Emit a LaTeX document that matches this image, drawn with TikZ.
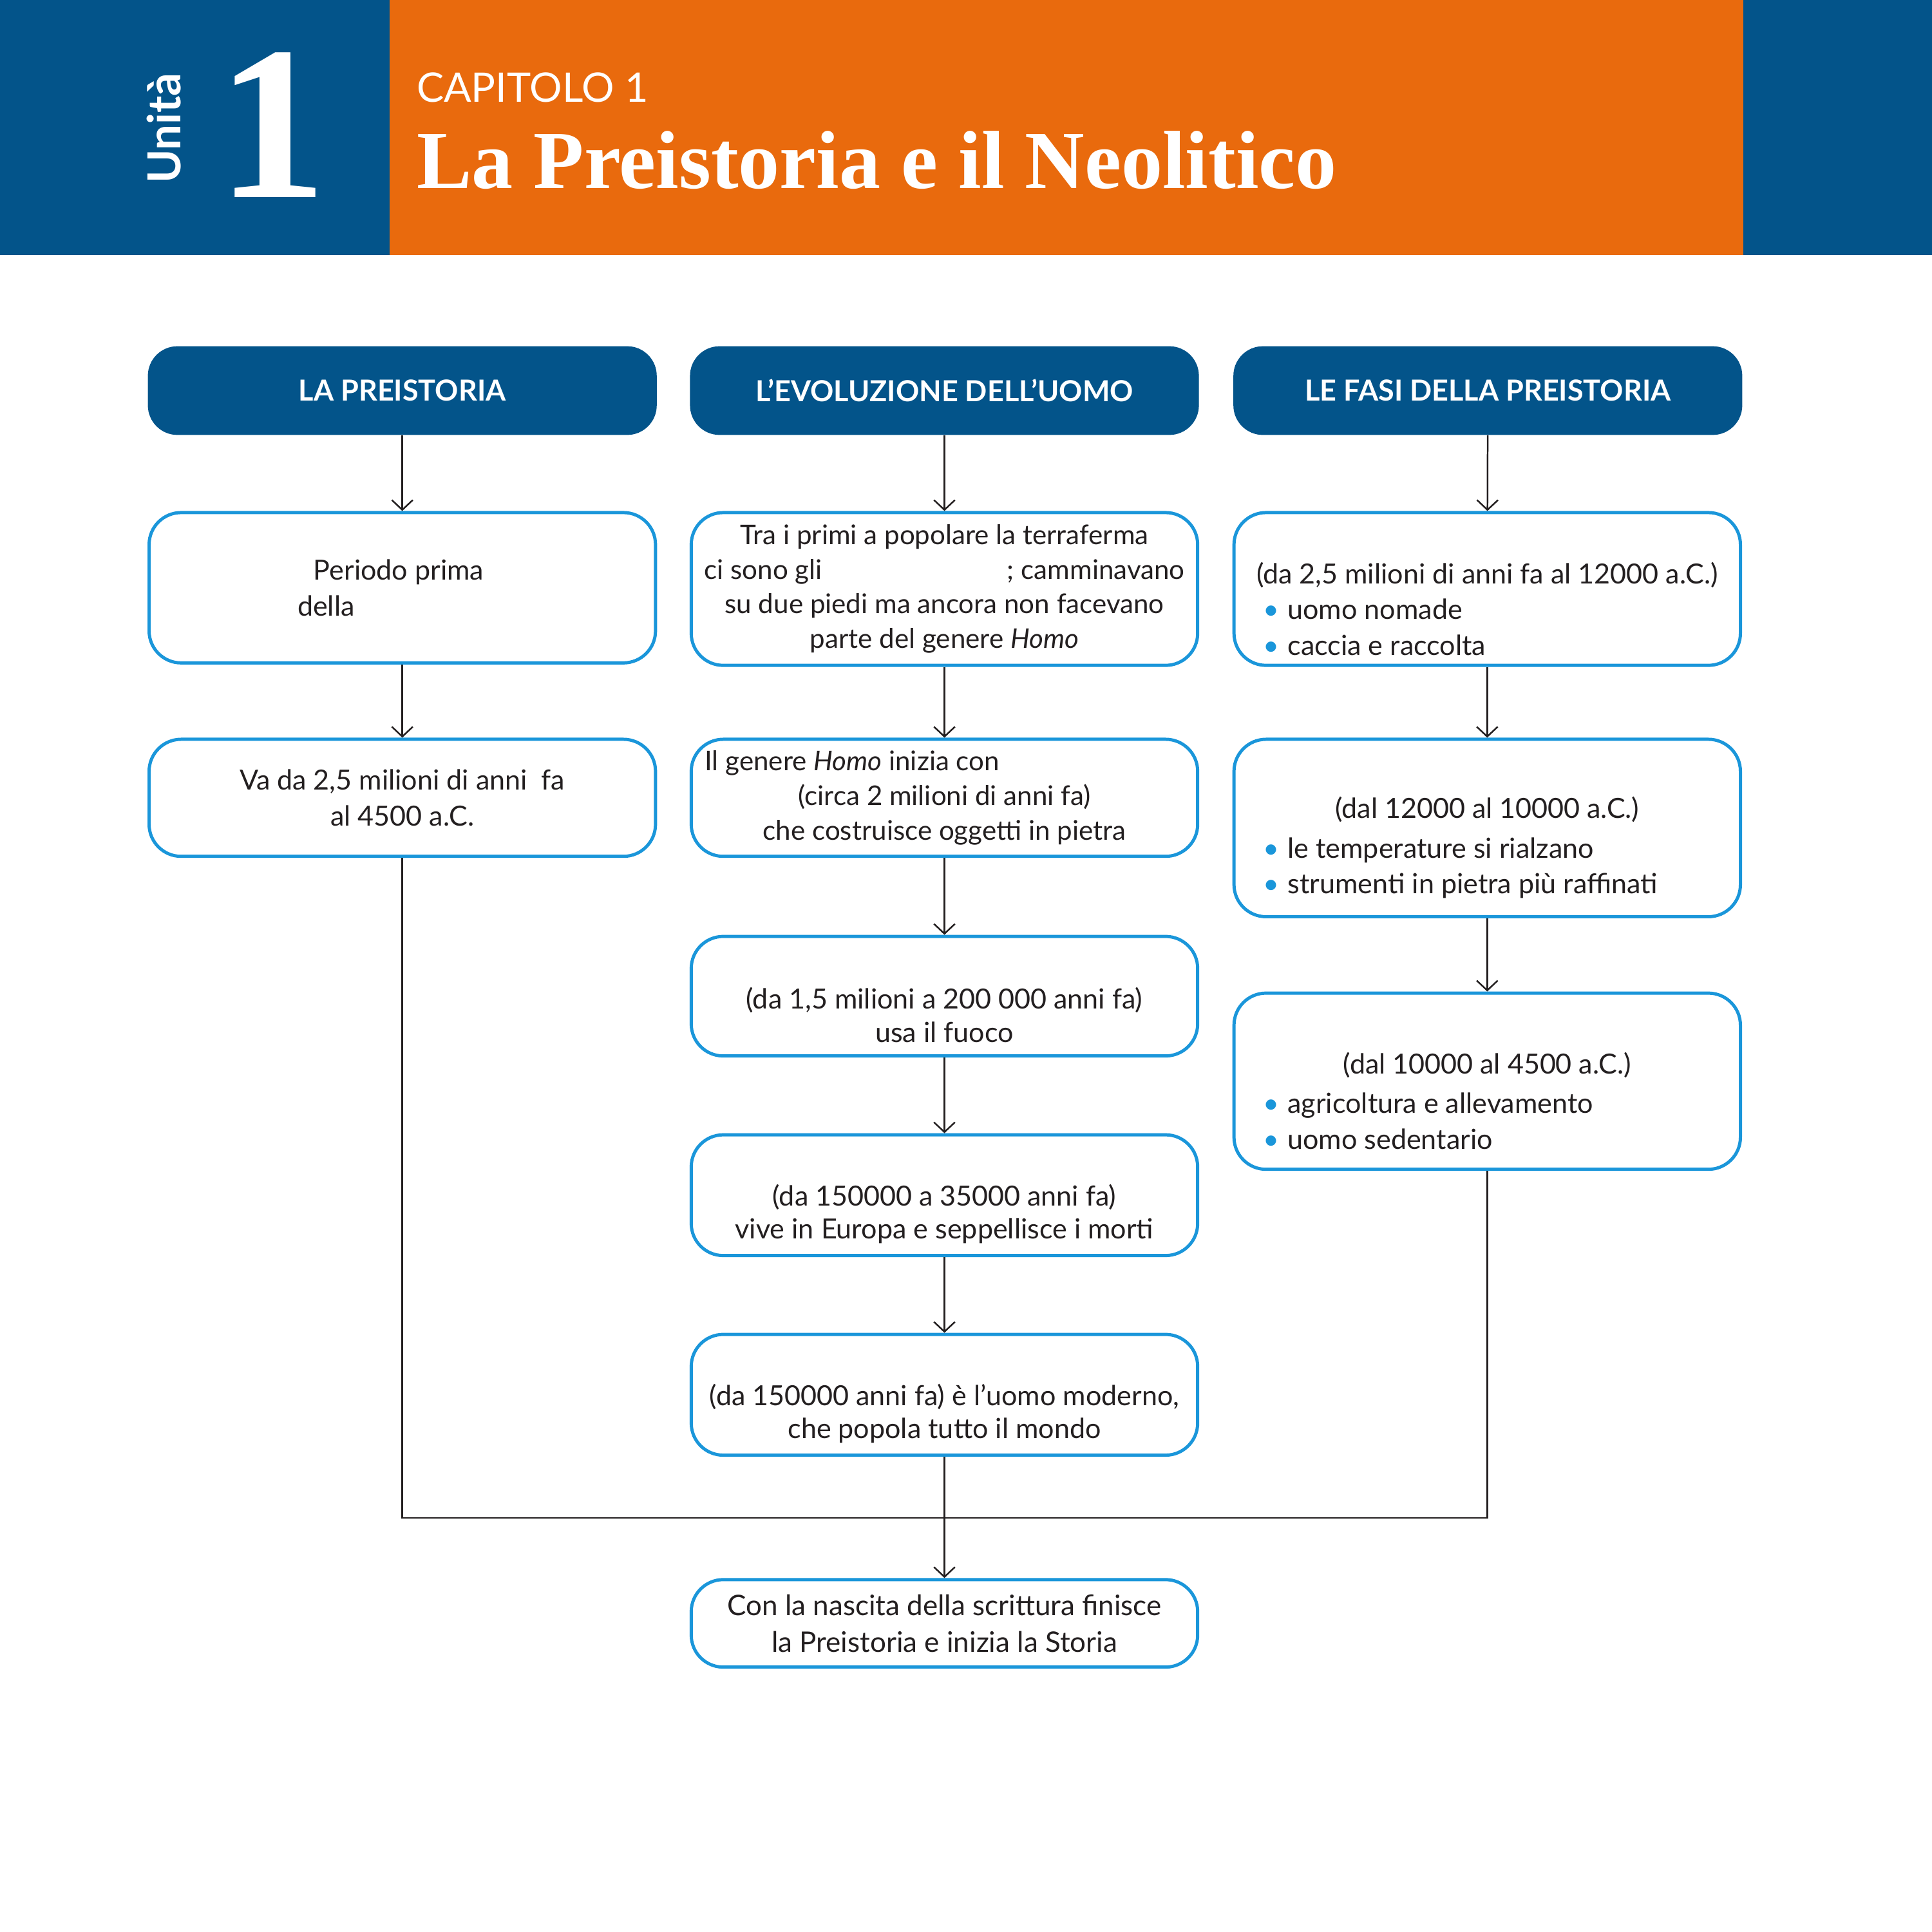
\documentclass[tikz,border=0pt]{standalone}
\usepackage{fontspec}
\setmainfont{Lato}
\newfontfamily\titolofont{Liberation Serif}
\usepackage{tikz}
\usetikzlibrary{arrows.meta,positioning}
\definecolor{bluscuro}{HTML}{03548A}
\definecolor{arancio}{HTML}{E96A0D}
\definecolor{azzurro}{HTML}{1A96DA}
\definecolor{linea}{HTML}{231F20}
\tikzset{
    testata/.style={
           rectangle,
           rounded corners=24pt,
           fill=bluscuro,
           text=white,
           minimum width=413pt,
           minimum height=72pt,
           font=\fontsize{23.5}{26}\selectfont\bfseries,
           },
    casella/.style={
           rectangle,
           rounded corners=26pt,
           draw=azzurro, line width=2.6pt,
           fill=white,
           minimum width=411pt,
           inner sep=2pt,
           align=center,
           text=linea,
           font=\fontsize{22.5}{29}\selectfont,
           },
    freccia/.style={
           draw=linea, line width=1.3pt,
           -{Straight Barb[length=8pt,width=17pt]},
           },
}
% riga con pallino azzurro (terza colonna)
\newcommand{\punto}[1]{\makebox[364pt][l]{\textcolor{azzurro}{\textbullet}\hspace{7pt}#1}}

\begin{document}
\begin{tikzpicture}[x=1pt,y=-1pt]
    \useasboundingbox (0,0) rectangle (1568,1568);
    \fill[white] (0,0) rectangle (1568,1568);

    % fascia del titolo
    \fill[bluscuro] (0,0) rectangle (1568,207);
    \fill[arancio] (316,0) rectangle (1415,207);
    \node[text=white, rotate=90, inner sep=0pt,
    font=\fontsize{37}{40}\selectfont\bfseries] (unita) at (133,104) {Unità};
    \node[text=white, anchor=base, inner sep=0pt,
    font=\titolofont\fontsize{178}{180}\selectfont\bfseries] (numero) at (221,160) {1};
    \node[text=white, anchor=base west, inner sep=0pt,
    font=\fontsize{33}{36}\selectfont] (capitolo) at (338,83) {CAPITOLO 1};
    \node[text=white, anchor=base west, inner sep=0pt,
    font=\titolofont\fontsize{67}{70}\selectfont\bfseries] (titolo) at (338,153)
    {La Preistoria e il Neolitico};

    % testate delle tre colonne
    \node[testata] (preist) at (326.5,317) {LA PREISTORIA};
    \node[testata,
    right of=preist,
    node distance=440pt] (evol) {L’EVOLUZIONE DELL’UOMO};
    \node[testata,
    right of=evol,
    node distance=441pt] (fasi) {LE FASI DELLA PREISTORIA};

    % prima colonna
    \node[casella, minimum height=122pt] (periodo) at (326.5,477)
    {\makebox[170pt][l]{\hspace{13pt}Periodo prima}\\\makebox[170pt][l]{della}};
    \node[casella, minimum height=95pt] (durata) at (326.5,647.5)
    {Va da 2,5 milioni di anni\ \ fa\\al 4500 a.C.};

    % seconda colonna
    \node[casella, minimum height=124pt,
    font=\fontsize{22}{28}\selectfont] (primi) at (766.5,478)
    {Tra i primi a popolare la terraferma\\
     \makebox[390pt][s]{ci sono gli\hfill; camminavano}\\
     su due piedi ma ancora non facevano\\
     parte del genere \emph{Homo}};
    \node[casella, minimum height=95pt,
    font=\fontsize{22}{28}\selectfont] (genere) at (766.5,647.5)
    {\makebox[389pt][l]{Il genere \emph{Homo} inizia con}\\
     (circa 2 milioni di anni fa)\\
     che costruisce oggetti in pietra};
    \node[casella, minimum height=97pt,
    font=\fontsize{22.5}{27}\selectfont] (fuoco) at (766.5,808.5)
    {\strut\\[2pt](da 1,5 milioni a 200 000 anni fa)\\usa il fuoco};
    \node[casella, minimum height=98pt,
    font=\fontsize{22.5}{27}\selectfont] (europa) at (766.5,970)
    {\strut\\[2pt](da 150000 a 35000 anni fa)\\vive in Europa e seppellisce i morti};
    \node[casella, minimum height=98pt,
    font=\fontsize{22.5}{27}\selectfont] (moderno) at (766.5,1132)
    {\strut\\[2pt](da 150000 anni fa) è l’uomo moderno,\\che popola tutto il mondo};
    \node[casella, minimum height=71pt,
    font=\fontsize{23}{30}\selectfont] (storia) at (766.5,1317.5)
    {Con la nascita della scrittura finisce\\la Preistoria e inizia la Storia};

    % terza colonna
    \node[casella, minimum height=124pt] (paleo) at (1207,478)
    {\strut\\(da 2,5 milioni di anni fa al 12000 a.C.)\\
     \punto{uomo nomade}\\\punto{caccia e raccolta}};
    \node[casella, minimum height=144pt] (meso) at (1207,672)
    {\strut\\(dal 12000 al 10000 a.C.)\\[3pt]
     \punto{le temperature si rialzano}\\\punto{strumenti in pietra più raffinati}};
    \node[casella, minimum height=143pt] (neo) at (1207,877.5)
    {\strut\\(dal 10000 al 4500 a.C.)\\[3pt]
     \punto{agricoltura e allevamento}\\\punto{uomo sedentario}};

    % frecce tra le caselle
    \path
        (preist)  edge[freccia] (periodo)
        (periodo) edge[freccia] (durata)
        (evol)    edge[freccia] (primi)
        (primi)   edge[freccia] (genere)
        (genere)  edge[freccia] (fuoco)
        (fuoco)   edge[freccia] (europa)
        (europa)  edge[freccia] (moderno)
        (fasi)    edge[freccia] (paleo)
        (paleo)   edge[freccia] (meso)
        (meso)    edge[freccia] (neo)
        (moderno) edge[freccia] (storia);

    % raccordo delle colonne laterali
    \coordinate (giunto) at (766.5,1232);
    \draw[draw=linea, line width=1.3pt] (durata.south) |- (giunto) -| (neo.south);
\end{tikzpicture}
\end{document}
